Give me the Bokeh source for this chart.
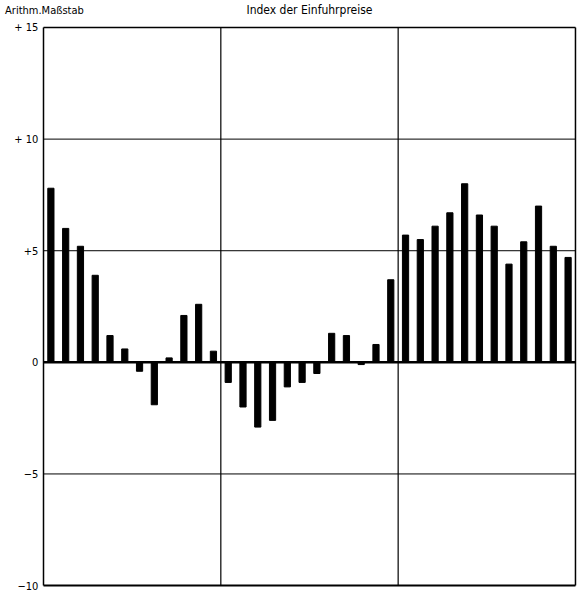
from bokeh.plotting import figure
from bokeh.core.properties import value
from bokeh.embed import file_html
from bokeh.resources import INLINE

values = [7.8, 6.0, 5.2, 3.9, 1.2, 0.6, -0.4, -1.9, 0.2, 2.1, 2.6, 0.5,
          -0.9, -2.0, -2.9, -2.6, -1.1, -0.9, -0.5, 1.3, 1.2, -0.1, 0.8, 3.7,
          5.7, 5.5, 6.1, 6.7, 8.0, 6.6, 6.1, 4.4, 5.4, 7.0, 5.2, 4.7]
months = list(range(len(values)))
y_ticks = [-10, -5, 0, 5, 10, 15]
y_tick_labels = ["\u221210", "\u22125", "0", "+5", "+ 10", "+ 15"]
year_bounds = [0, 12, 24, 36]
title_text = "Index der Einfuhrpreise"
scale_text = "Arithm.Maßstab"

FONT = "DejaVu Sans Condensed, Liberation Sans"

n = len(values)
p = figure(width=580, height=596, output_backend="svg", toolbar_location=None,
           x_range=(-2.91, 36.34), y_range=(-10.49, 16.21),
           min_border_left=0, min_border_right=0, min_border_top=0, min_border_bottom=0)
p.axis.visible = False
p.grid.visible = False
p.outline_line_color = None
p.background_fill_color = "white"
p.border_fill_color = "white"

# horizontal grid lines
hw = {-10: 2.0, 0: 2.5, 15: 1.5}
p.segment(x0=[0] * len(y_ticks), x1=[n] * len(y_ticks), y0=y_ticks, y1=y_ticks,
          line_color="black", line_width=[hw.get(t, 1.0) for t in y_ticks])
# vertical lines
vw = [1.5 if b in (0, n) else 1.2 for b in year_bounds]
p.segment(x0=year_bounds, x1=year_bounds, y0=[y_ticks[0]] * 4, y1=[y_ticks[-1]] * 4,
          line_color="black", line_width=vw)

xs = [m + 0.5 for m in months]
p.vbar(x=xs, top=values, bottom=0, width=0.42, color="black")

# tick labels
p.text(x=[-0.35] * len(y_ticks), y=y_ticks, text=y_tick_labels,
       text_font=value(FONT), text_font_size="11px", text_align="right",
       text_baseline="middle", text_color="black")

p.text(x=[-2.6], y=[15.78], text=[scale_text], text_font=value(FONT), text_font_size="11px",
       text_align="left", text_baseline="middle", text_color="black")
p.text(x=[n / 2], y=[15.78], text=[title_text], text_font=value(FONT), text_font_size="12px",
       text_align="center", text_baseline="middle", text_color="black")

open("out.html", "w").write(file_html(p, INLINE))
